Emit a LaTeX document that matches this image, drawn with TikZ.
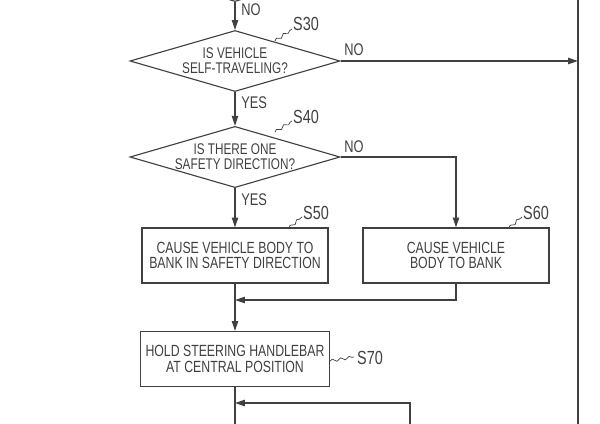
\documentclass[tikz,border=0pt]{standalone}
\usepackage{fontspec}
\setmainfont[FakeStretch=0.76]{Liberation Sans}
\usetikzlibrary{shapes.geometric,arrows.meta,decorations.pathmorphing}
\definecolor{ink}{gray}{0.25}
\tikzstyle{decision}=[diamond,draw=ink,line width=0.8pt,shape aspect=3.4,minimum width=5.25cm,minimum height=1.525cm,inner sep=0pt,align=center,text=ink,font=\fontsize{11}{10.6}\selectfont]
\tikzstyle{process}=[rectangle,draw=ink,line width=0.8pt,minimum width=4.65cm,minimum height=1.375cm,align=center,text=ink,font=\fontsize{11.5}{11}\selectfont]
\tikzstyle{line}=[draw=ink,line width=0.8pt]
\tikzstyle{flow}=[line,-{Triangle[length=7pt,width=4.5pt]}]
\tikzstyle{answer}=[text=ink,anchor=west,inner sep=0pt,font=\fontsize{12}{12}\selectfont]
\tikzstyle{steplabel}=[text=ink,inner sep=0pt,font=\fontsize{13.5}{13.5}\selectfont]
\tikzstyle{wiggle}=[draw=ink,line width=0.5pt,decorate,decoration={snake,amplitude=1pt,segment length=6pt}]

\begin{document}
\begin{tikzpicture}[x=0.025cm, y=-0.025cm]
    \clip (0,0) rectangle (600,423);
    % First we draw the decisions and the steps
    \node[decision] (s20) at (235,-29) {};
    \node[decision] (s30) at (235,61) {IS VEHICLE\\SELF-TRAVELING?};
    \node[decision] (s40) at (235,157) {IS THERE ONE\\SAFETY DIRECTION?};
    \node[process] (s50) at (235,255.5) {CAUSE VEHICLE BODY TO\\BANK IN SAFETY DIRECTION};
    \node[process] (s60) at (456,255.5) {CAUSE VEHICLE\\BODY TO BANK};
    \node[process] (s70) at (235,359) {HOLD STEERING HANDLEBAR\\AT CENTRAL POSITION};
    % Free ends of the connectors
    \coordinate (rtop) at (578,-5);
    \coordinate (rbot) at (578,430);
    \coordinate (s30no) at (578,61);
    \coordinate (j1) at (235,300);
    \coordinate (j2) at (235,403);
    \coordinate (out) at (235,430);
    \coordinate (back) at (410,430);
    % Connect the steps
    \path[flow] (s20) -- (s30);
    \path[flow] (s30.east) -- (s30no);
    \path[line] (rtop) -- (rbot);
    \path[flow] (s30) -- (s40);
    \path[flow] (s40) -- (s50);
    \path[flow] (s40.east) -| (s60);
    \path[flow] (s50) -- (s70);
    \path[flow] (s60) |- (j1);
    \path[line] (s70) -- (out);
    \path[flow] (back) |- (j2);
    % Answers on the branches
    \foreach \pos/\name/\txt in {{(241,10)/a20/NO}, {(344,50)/a30/NO}, {(241,103)/b30/YES}, {(344,147)/a40/NO}, {(241,200)/b40/YES}}
        \node[answer] (\name) at \pos {\txt};
    % Step numbers with their squiggles
    \foreach \pos/\name/\txt in {{(306,24)/l30/S30}, {(306,117)/l40/S40}, {(316,213)/l50/S50}, {(536,213)/l60/S60}, {(370,358)/l70/S70}}
        \node[steplabel] (\name) at \pos {\txt};
    \foreach \from/\to in {{(275,41)/(292,29)}, {(275,132)/(292,121)}, {(289,228)/(302,217)}, {(509,228)/(522,217)}, {(330,361)/(354,357)}}
        \path[wiggle] \from -- \to;
\end{tikzpicture}
\end{document}
